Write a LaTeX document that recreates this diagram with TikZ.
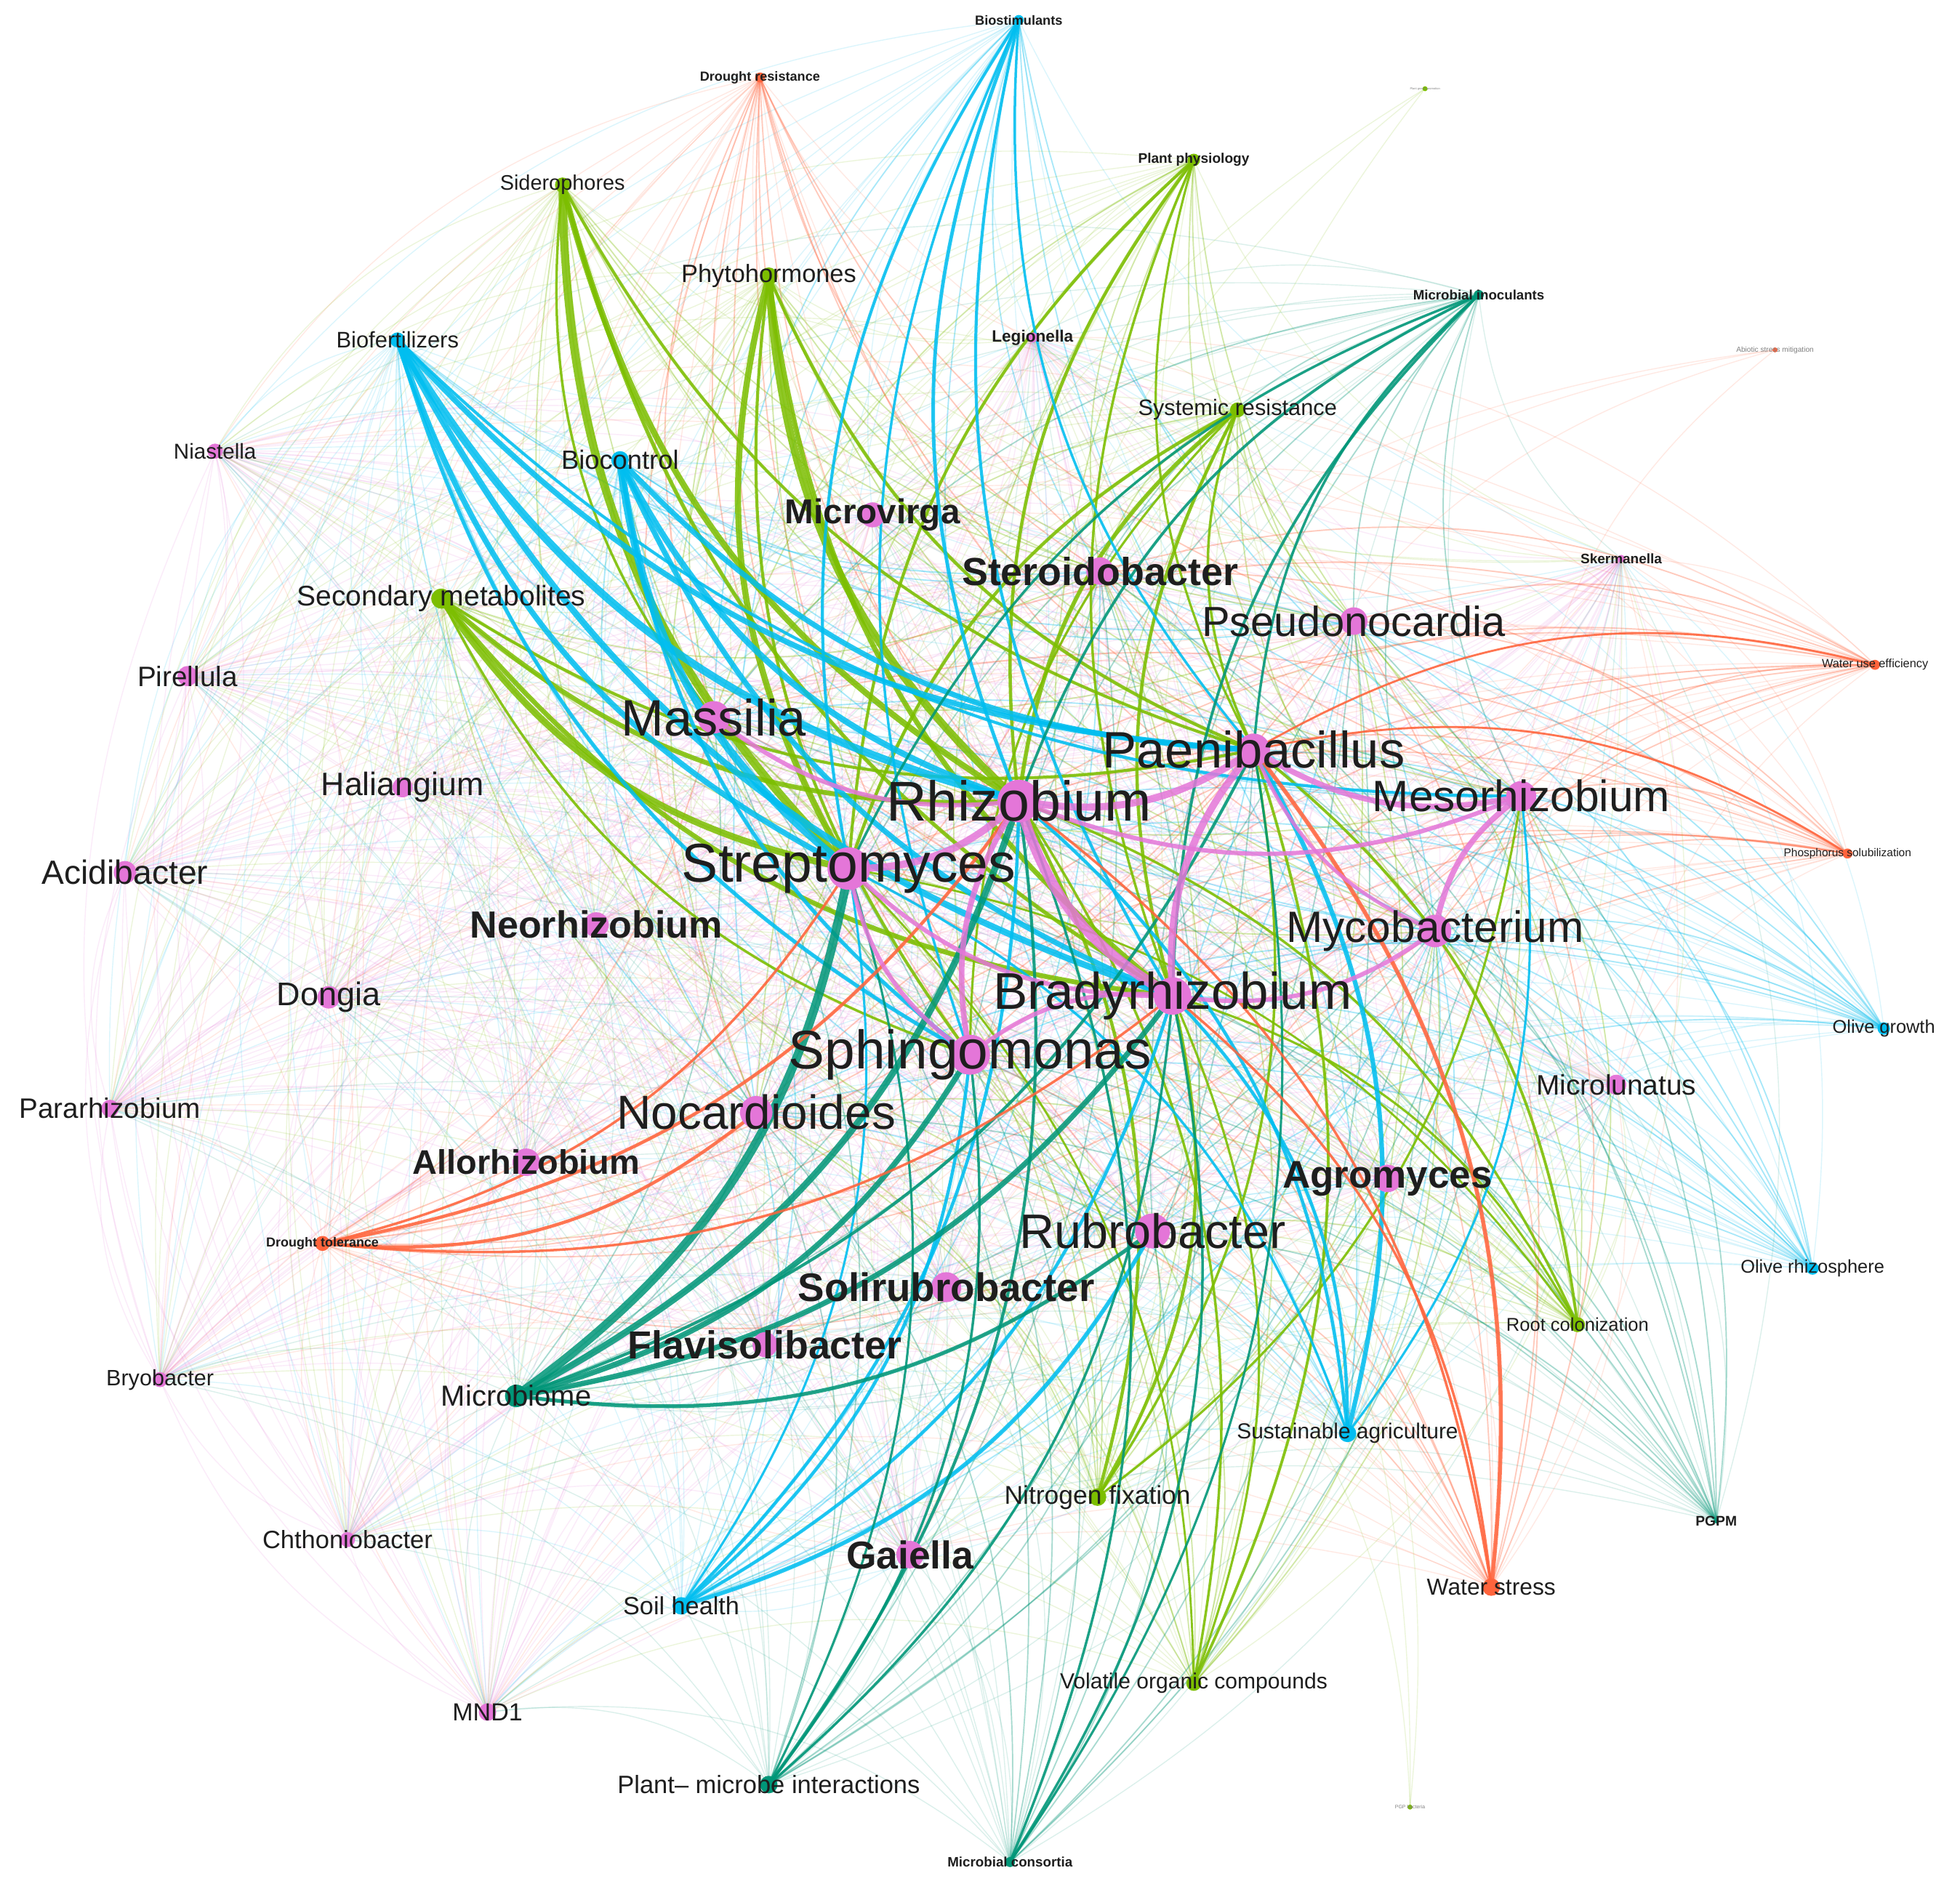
\documentclass[tikz,border=0pt]{standalone}
\usepackage{fontspec}
\setmainfont{Liberation Sans}
\usepackage{graphicx}
\definecolor{cPink}{RGB}{228,118,216}
\definecolor{cCyan}{RGB}{0,190,240}
\definecolor{cLime}{RGB}{124,190,0}
\definecolor{cTeal}{RGB}{0,150,120}
\definecolor{cOrng}{RGB}{255,100,60}
\definecolor{cText}{RGB}{30,30,30}
\newlength\pxu \setlength\pxu{0.17194mm}
\newcommand\lbl[2]{\resizebox{#1\pxu}{!}{#2}}
\begin{document}
\begin{tikzpicture}[x=0.17194mm,y=-0.17194mm,
  faint/.style={line width=0.4pt,draw opacity=0.14},
  mid/.style={line width=0.55pt,draw opacity=0.24},
  strong/.style={draw opacity=0.85},
  arc/.style={bend right=22},
  lab/.style={inner sep=0pt,anchor=center,text=cText}]
\useasboundingbox (0,0) rectangle (1568,1505);
\fill[white] (0,0) rectangle (1568,1505);
% ---------- bacteria ----------
\coordinate (rhi) at (815,641);
\coordinate (str) at (679,695);
\coordinate (sph) at (776,844);
\coordinate (bra) at (938,797);
\coordinate (pae) at (1003,600);
\coordinate (mas) at (571,574);
\coordinate (noc) at (605,890);
\coordinate (rub) at (922,985);
\coordinate (mes) at (1217,637);
\coordinate (myc) at (1148,745);
\coordinate (pse) at (1083,497);
\coordinate (ste) at (880,457);
\coordinate (mvi) at (698,412);
\coordinate (neo) at (477,740);
\coordinate (all) at (421,930);
\coordinate (agr) at (1110,943);
\coordinate (sol) at (757,1030);
\coordinate (fla) at (612,1076);
\coordinate (gai) at (728,1244);
\coordinate (mlu) at (1293,868);
\coordinate (hal) at (322,630);
\coordinate (aci) at (100,698);
\coordinate (don) at (263,798);
\coordinate (par) at (88,887);
\coordinate (pir) at (150,541);
\coordinate (nia) at (172,361);
\coordinate (bry) at (128,1104);
\coordinate (cht) at (278,1232);
\coordinate (mnd) at (390,1370);
\coordinate (leg) at (826,270);
\coordinate (ske) at (1297,447);
% ---------- keywords ----------
\coordinate (bst) at (815,16);
\coordinate (dre) at (608,62);
\coordinate (tga) at (1140,71);
\coordinate (sid) at (450,148);
\coordinate (pph) at (955,128);
\coordinate (phy) at (615,221);
\coordinate (ino) at (1183,236);
\coordinate (abs) at (1420,280);
\coordinate (bfe) at (318,272);
\coordinate (sys) at (990,328);
\coordinate (bco) at (496,368);
\coordinate (sec) at (353,479);
\coordinate (wue) at (1500,532);
\coordinate (pso) at (1478,683);
\coordinate (olg) at (1507,823);
\coordinate (olr) at (1450,1015);
\coordinate (dto) at (258,995);
\coordinate (roo) at (1262,1060);
\coordinate (mic) at (413,1117);
\coordinate (sus) at (1078,1147);
\coordinate (nit) at (878,1198);
\coordinate (pgp) at (1373,1217);
\coordinate (soi) at (545,1285);
\coordinate (wst) at (1193,1270);
\coordinate (voc) at (955,1347);
\coordinate (pmi) at (615,1428);
\coordinate (tgb) at (1128,1446);
\coordinate (con) at (808,1490);
% ---------- faint haze ----------
\foreach \a [count=\i] in {rhi,str,sph,bra,pae,mas,noc,rub,mes,myc,pse,ste,mvi,neo,all,agr,sol,fla,gai,mlu,hal,aci,don,par,pir,nia,bry,cht,mnd,leg,ske}{
  \foreach \b [count=\j] in {rhi,str,sph,bra,pae,mas,noc,rub,mes,myc,pse,ste,mvi,neo,all,agr,sol,fla,gai,mlu,hal,aci,don,par,pir,nia,bry,cht,mnd,leg,ske}{
    \ifnum\j>\i \draw[cPink,faint] (\a) to[arc] (\b);\fi
  }
}
\foreach \k/\c in {bst/cCyan,dre/cOrng,sid/cLime,pph/cLime,phy/cLime,ino/cTeal,bfe/cCyan,sys/cLime,bco/cCyan,sec/cLime,wue/cOrng,pso/cOrng,olg/cCyan,olr/cCyan,dto/cOrng,roo/cLime,mic/cTeal,sus/cCyan,nit/cLime,pgp/cTeal,soi/cCyan,wst/cOrng,voc/cLime,pmi/cTeal,con/cTeal}{
  \foreach \b in {rhi,str,sph,bra,pae,mas,noc,rub,mes,myc,pse,ste,mvi,neo,all,agr,sol,fla,gai,mlu,hal,aci,don,par,pir,nia,bry,cht,mnd,leg,ske}{
    \draw[\c,faint] (\k) to[arc] (\b);
  }
  \foreach \b in {rhi,str,sph,bra,pae,mas,noc,rub,mes,myc,pse,ste}{
    \draw[\c,mid] (\k) to[arc] (\b);
  }
}
\foreach \k/\b/\c in {tga/rhi/cLime,tga/str/cLime,tga/bra/cLime,abs/pae/cOrng,abs/rhi/cOrng,abs/mes/cOrng,abs/str/cOrng,tgb/bra/cLime,tgb/rub/cLime,tgb/rhi/cLime}{
  \draw[\c,faint] (\k) to[arc] (\b);
}
% ---------- strong edges ----------
\foreach \a/\b/\w in {sid/str/3.2pt,sid/rhi/2.4pt,sid/bra/1.5pt,sid/pae/1.2pt,sid/mas/1.0pt,
  phy/rhi/3.0pt,phy/str/2.4pt,phy/bra/2.0pt,phy/pae/1.3pt,phy/sph/1.2pt,
  sec/str/2.6pt,sec/bra/1.9pt,sec/rhi/1.9pt,sec/pae/1.2pt,sec/sph/1.0pt,
  sys/rhi/1.6pt,sys/str/1.3pt,sys/bra/1.3pt,sys/pae/1.0pt,sys/sph/0.9pt,
  pph/rhi/1.3pt,pph/str/1.2pt,pph/bra/1.0pt,pph/pae/0.9pt,
  nit/rhi/1.3pt,nit/bra/1.3pt,nit/pae/1.0pt,nit/mes/0.9pt,
  roo/pae/1.1pt,roo/rhi/1.0pt,roo/bra/0.9pt,roo/str/0.8pt,
  voc/pae/1.1pt,voc/rhi/1.0pt,voc/bra/0.9pt,voc/str/0.8pt}{
  \draw[cLime,strong,line width=\w] (\a) to[arc] (\b);
}
\foreach \a/\b/\w in {bfe/rhi/3.0pt,bfe/bra/2.5pt,bfe/str/2.2pt,bfe/pae/2.2pt,bfe/sph/1.5pt,bfe/mes/1.2pt,
  bco/str/3.0pt,bco/rhi/2.4pt,bco/bra/2.1pt,bco/pae/2.1pt,bco/sph/1.5pt,
  bst/rhi/1.4pt,bst/str/1.2pt,bst/bra/1.2pt,bst/sph/1.0pt,bst/pae/1.0pt,
  sus/pae/1.8pt,sus/rhi/1.3pt,sus/bra/1.3pt,sus/str/1.0pt,sus/mes/0.9pt,
  soi/rub/1.6pt,soi/bra/1.3pt,soi/rhi/1.3pt,soi/sph/1.3pt,soi/str/0.9pt}{
  \draw[cCyan,strong,line width=\w] (\a) to[arc] (\b);
}
\foreach \a/\b/\w in {mic/str/3.4pt,mic/rhi/2.6pt,mic/sph/2.2pt,mic/bra/2.1pt,mic/rub/1.5pt,mic/pae/1.2pt,
  ino/rhi/1.1pt,ino/bra/1.1pt,ino/str/1.0pt,ino/pae/1.0pt,
  pmi/rhi/1.2pt,pmi/bra/1.0pt,pmi/sph/1.0pt,pmi/str/0.9pt,
  con/rhi/1.0pt,con/bra/1.0pt,con/pae/0.9pt}{
  \draw[cTeal,strong,line width=\w] (\a) to[arc] (\b);
}
\foreach \a/\b/\w in {dto/rhi/1.3pt,dto/noc/1.3pt,dto/bra/1.0pt,dto/str/1.0pt,
  wst/pae/1.6pt,wst/rhi/1.0pt,wst/bra/1.0pt,
  wue/pae/0.8pt,pso/pae/0.8pt}{
  \draw[cOrng,strong,line width=\w] (\a) to[arc] (\b);
}
\foreach \a/\b/\w in {rhi/bra/4.0pt,rhi/pae/2.8pt,pae/bra/2.8pt,str/rhi/2.8pt,pae/mes/2.2pt,mes/myc/2.2pt,
  rhi/sph/2.2pt,mas/rhi/1.7pt,str/sph/1.7pt,bra/myc/1.7pt,rhi/mes/1.7pt,str/bra/1.7pt,pae/myc/1.4pt,bra/sph/1.7pt}{
  \draw[cPink,strong,line width=\w] (\a) to[arc] (\b);
}
% ---------- node dots ----------
\foreach \n/\r in {rhi/17,str/17,sph/16,bra/15,pae/13,mas/13,noc/13,rub/14,mes/12,myc/13,pse/11,ste/11,mvi/10,neo/10,all/11,agr/11,sol/12,fla/10,gai/11,mlu/8,hal/8,aci/9,don/9,par/7,pir/8,nia/6,bry/6,cht/6,mnd/7,leg/4,ske/3}{
  \fill[cPink] (\n) circle[radius=\r];
}
\foreach \n/\r/\c in {bst/4/cCyan,dre/4/cOrng,tga/2/cLime,sid/6/cLime,pph/5/cLime,phy/7/cLime,ino/4/cTeal,abs/2/cOrng,bfe/6/cCyan,sys/6/cLime,bco/7/cCyan,sec/8/cLime,wue/4/cOrng,pso/4/cOrng,olg/5/cCyan,olr/5/cCyan,dto/6/cOrng,roo/6/cLime,mic/9/cTeal,sus/7/cCyan,nit/7/cLime,pgp/2/cTeal,soi/7/cCyan,wst/7/cOrng,voc/6/cLime,pmi/7/cTeal,tgb/2/cLime,con/4/cTeal}{
  \fill[\c] (\n) circle[radius=\r];
}
% ---------- labels ----------
\node[lab] at (rhi) {\lbl{212}{Rhizobium}};
\node[lab] at (str) {\lbl{267}{Streptomyces}};
\node[lab] at (sph) {\lbl{290}{Sphingomonas}};
\node[lab] at (bra) {\lbl{287}{Bradyrhizobium}};
\node[lab] at (pae) {\lbl{242}{Paenibacillus}};
\node[lab] at (mas) {\lbl{148}{Massilia}};
\node[lab] at (noc) {\lbl{223}{Nocardioides}};
\node[lab] at (rub) {\lbl{213}{Rubrobacter}};
\node[lab] at (mes) {\lbl{238}{Mesorhizobium}};
\node[lab] at (myc) {\lbl{238}{Mycobacterium}};
\node[lab] at (pse) {\lbl{243}{Pseudonocardia}};
\node[lab] at (ste) {\lbl{221}{\bfseries Steroidobacter}};
\node[lab] at (mvi) {\lbl{140}{\bfseries Microvirga}};
\node[lab] at (neo) {\lbl{202}{\bfseries Neorhizobium}};
\node[lab] at (all) {\lbl{182}{\bfseries Allorhizobium}};
\node[lab] at (agr) {\lbl{168}{\bfseries Agromyces}};
\node[lab] at (sol) {\lbl{237}{\bfseries Solirubrobacter}};
\node[lab] at (fla) {\lbl{219}{\bfseries Flavisolibacter}};
\node[lab] at (gai) {\lbl{102}{\bfseries Gaiella}};
\node[lab] at (mlu) {\lbl{128}{Microlunatus}};
\node[lab] at (hal) {\lbl{130}{Haliangium}};
\node[lab] at (aci) {\lbl{133}{Acidibacter}};
\node[lab] at (don) {\lbl{83}{Dongia}};
\node[lab] at (par) {\lbl{145}{Pararhizobium}};
\node[lab] at (pir) {\lbl{80}{Pirellula}};
\node[lab] at (nia) {\lbl{66}{Niastella}};
\node[lab] at (bry) {\lbl{86}{Bryobacter}};
\node[lab] at (cht) {\lbl{136}{Chthoniobacter}};
\node[lab] at (mnd) {\lbl{56}{MND1}};
\node[lab] at (leg) {\lbl{65}{\bfseries Legionella}};
\node[lab] at (ske) {\lbl{65}{\bfseries Skermanella}};
\node[lab] at (bst) {\lbl{70}{\bfseries Biostimulants}};
\node[lab] at (dre) {\lbl{96}{\bfseries Drought resistance}};
\node[lab,text=gray] at (tga) {\lbl{24}{Plant growth promotion}};
\node[lab] at (sid) {\lbl{100}{Siderophores}};
\node[lab] at (pph) {\lbl{89}{\bfseries Plant physiology}};
\node[lab] at (phy) {\lbl{140}{Phytohormones}};
\node[lab] at (ino) {\lbl{105}{\bfseries Microbial inoculants}};
\node[lab,text=gray] at (abs) {\lbl{62}{Abiotic stress mitigation}};
\node[lab] at (bfe) {\lbl{98}{Biofertilizers}};
\node[lab] at (sys) {\lbl{159}{Systemic resistance}};
\node[lab] at (bco) {\lbl{94}{Biocontrol}};
\node[lab] at (sec) {\lbl{231}{Secondary metabolites}};
\node[lab] at (wue) {\lbl{85}{Water use efficiency}};
\node[lab] at (pso) {\lbl{102}{Phosphorus solubilization}};
\node[lab] at (olg) {\lbl{82}{Olive growth}};
\node[lab] at (olr) {\lbl{115}{Olive rhizosphere}};
\node[lab] at (dto) {\lbl{90}{\bfseries Drought tolerance}};
\node[lab] at (roo) {\lbl{114}{Root colonization}};
\node[lab] at (mic) {\lbl{120}{Microbiome}};
\node[lab] at (sus) {\lbl{177}{Sustainable agriculture}};
\node[lab] at (nit) {\lbl{149}{Nitrogen fixation}};
\node[lab] at (pgp) {\lbl{33}{\bfseries PGPM}};
\node[lab] at (soi) {\lbl{93}{Soil health}};
\node[lab] at (wst) {\lbl{103}{Water stress}};
\node[lab] at (voc) {\lbl{214}{Volatile organic compounds}};
\node[lab] at (pmi) {\lbl{242}{Plant– microbe interactions}};
\node[lab,text=gray] at (tgb) {\lbl{24}{PGP bacteria}};
\node[lab] at (con) {\lbl{100}{\bfseries Microbial consortia}};
\end{tikzpicture}
\end{document}
